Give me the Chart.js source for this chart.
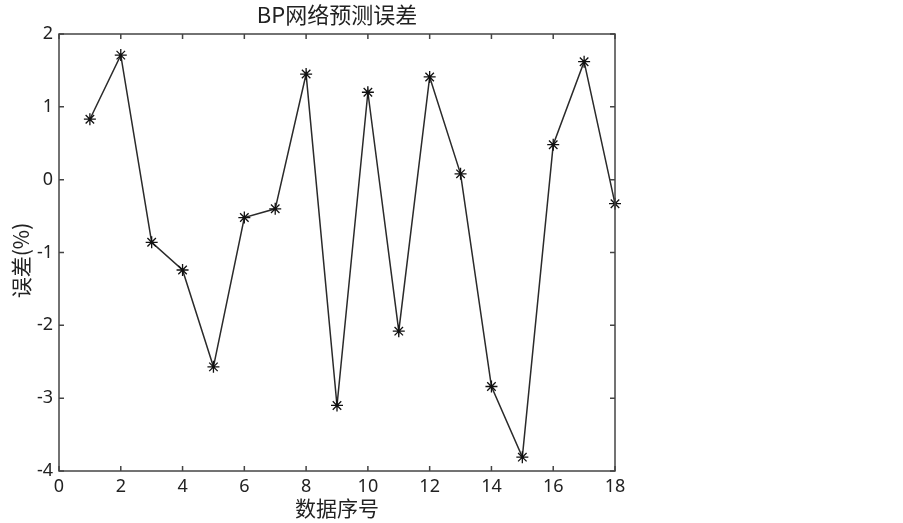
<!DOCTYPE html>
<html>
<head>
<meta charset="utf-8">
<script src="https://cdn.jsdelivr.net/npm/chart.js@4.4.1/dist/chart.umd.min.js"></script>
<style>
  body { margin: 0; background: #fff; }
  canvas { display: block; }
</style>
</head>
<body>
<canvas id="err-chart" width="903" height="523"></canvas>
<script>
// 数据
const sampleIndex = [1, 2, 3, 4, 5, 6, 7, 8, 9, 10, 11, 12, 13, 14, 15, 16, 17, 18];
const errorPct = [0.83, 1.71, -0.86, -1.24, -2.57, -0.52, -0.40, 1.45, -3.10, 1.20, -2.08, 1.41, 0.08, -2.84, -3.81, 0.48, 1.62, -0.33];
const xTicks = [0, 2, 4, 6, 8, 10, 12, 14, 16, 18];
const yTicks = [-4, -3, -2, -1, 0, 1, 2];

const chartTitle = 'BP网络预测误差';
const xTitle = '数据序号';
const yTitle = '误差(%)';

const tickFont = { family: '"Noto Sans", sans-serif', size: 18 };
const cjkFont = '"Noto Sans CJK SC", sans-serif';
const axisColor = '#444';

// 边框 + 内向刻度 + 标题
const boxPlugin = {
  id: 'box',
  afterDraw(chart) {
    const { ctx, chartArea: a, scales } = chart;
    const x = scales.x, y = scales.y;
    ctx.save();
    ctx.strokeStyle = axisColor;
    ctx.lineWidth = 1.5;
    ctx.strokeRect(a.left, a.top, a.right - a.left, a.bottom - a.top);
    ctx.beginPath();
    const len = 5;
    xTicks.forEach(v => {
      const px = x.getPixelForValue(v);
      ctx.moveTo(px, a.bottom); ctx.lineTo(px, a.bottom - len);
      ctx.moveTo(px, a.top); ctx.lineTo(px, a.top + len);
    });
    yTicks.forEach(v => {
      const py = y.getPixelForValue(v);
      ctx.moveTo(a.left, py); ctx.lineTo(a.left + len, py);
      ctx.moveTo(a.right, py); ctx.lineTo(a.right - len, py);
    });
    ctx.stroke();

    ctx.fillStyle = '#222';
    ctx.textAlign = 'center';
    ctx.textBaseline = 'middle';
    const cx = (a.left + a.right) / 2;
    ctx.font = '22px ' + cjkFont;
    ctx.fillText(chartTitle, cx, 15);
    ctx.font = '21px ' + cjkFont;
    ctx.fillText(xTitle, cx, 508);
    ctx.translate(21, (a.top + a.bottom) / 2 + 8);
    ctx.rotate(-Math.PI / 2);
    ctx.fillText(yTitle, 0, 0);
    ctx.restore();
  }
};

new Chart(document.getElementById('err-chart').getContext('2d'), {
  type: 'line',
  data: {
    datasets: [{
      data: sampleIndex.map((v, i) => ({ x: v, y: errorPct[i] })),
      borderColor: '#2a2a2a',
      borderWidth: 1.5,
      pointStyle: 'star',
      pointRadius: 6,
      pointBorderWidth: 1.3,
      pointBorderColor: '#111',
      pointBackgroundColor: '#111',
      tension: 0,
      clip: false
    }]
  },
  options: {
    responsive: false,
    animation: false,
    layout: { padding: { left: 0, right: 288, top: 34, bottom: 0 } },
    scales: {
      x: {
        type: 'linear',
        min: 0,
        max: 18,
        afterFit(s) { s.height = 52; },
        afterBuildTicks(s) { s.ticks = xTicks.map(v => ({ value: v })); },
        grid: { drawOnChartArea: false, drawTicks: false },
        border: { display: false },
        ticks: { color: '#222', font: tickFont, padding: 5, maxRotation: 0 }
      },
      y: {
        min: -4,
        max: 2,
        afterFit(s) { s.width = 59; },
        afterBuildTicks(s) { s.ticks = yTicks.map(v => ({ value: v })); },
        grid: { drawOnChartArea: false, drawTicks: false },
        border: { display: false },
        ticks: { color: '#222', font: tickFont, padding: 6 }
      }
    },
    plugins: { legend: { display: false }, tooltip: { enabled: false }, title: { display: false } }
  },
  plugins: [boxPlugin]
});
</script>
</body>
</html>
